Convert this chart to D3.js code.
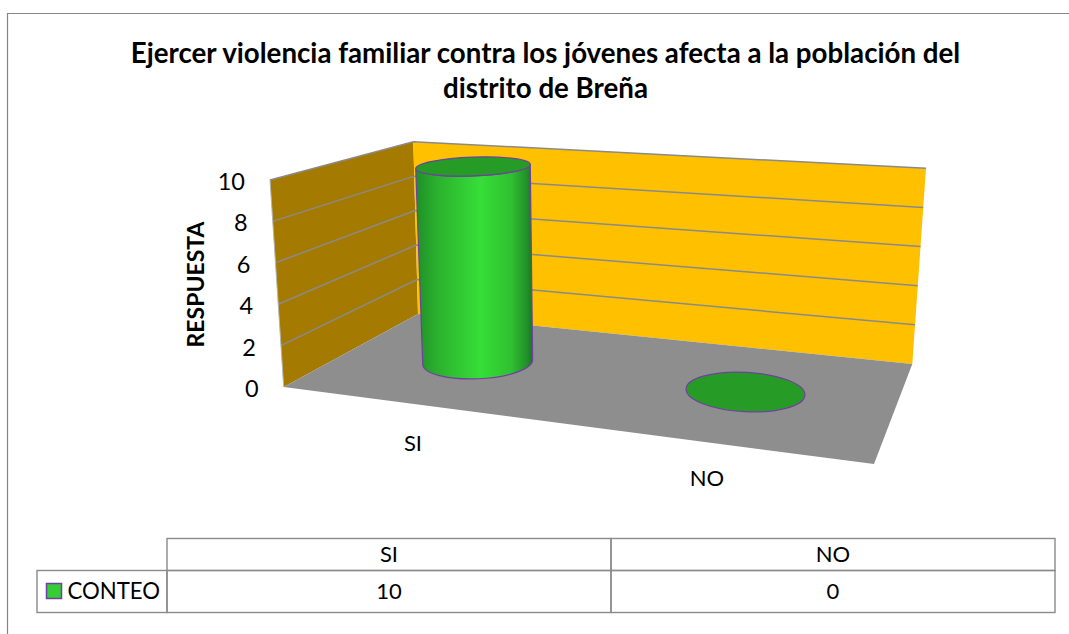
<!DOCTYPE html>
<html>
<head>
<meta charset="utf-8">
<script src="https://cdn.jsdelivr.net/npm/d3@7"></script>
<style>
    html, body { margin: 0; padding: 0; background: #fff; }
    text { font-family: Lato, "Open Sans", sans-serif; fill: #000; }
</style>
</head>
<body>
<div id="chart-area"></div>
<script>
var titleLines = ["Ejercer violencia familiar contra los jóvenes afecta a la población del", "distrito de Breña"];
var yAxisTitle = "RESPUESTA";
var seriesName = "CONTEO";
var categories = ["SI", "NO"];
var values = [10, 0];
var yTicks = [0, 2, 4, 6, 8, 10];
var gridTicks = [2, 4, 6, 8, 10];

var svgWidth = 1069;
var svgHeight = 634;

var svg = d3.select("#chart-area")
            .append("svg")
            .attr("width", svgWidth)
            .attr("height", svgHeight)
            .style("display", "block");

// the three value edges of the box: front left, back corner, back right
var frontY = d3.scaleLinear().domain([0, 10]).range([387, 180]);
var frontX = d3.scaleLinear().domain([0, 10]).range([283.7, 270]);
var cornerY = d3.scaleLinear().domain([0, 10]).range([314, 141.7]);
var cornerX = d3.scaleLinear().domain([0, 10]).range([418, 413.3]);
var rightY = d3.scaleLinear().domain([0, 10]).range([364, 168.3]);
var rightX = d3.scaleLinear().domain([0, 10]).range([912.3, 926]);
var floorFront = { x: 874, y: 464 };

// where each cylinder stands on the floor
var baseX = d3.scalePoint().domain(categories).range([477.7, 745.5]);
var baseY = d3.scalePoint().domain(categories).range([362, 392]);
var baseRx = d3.scalePoint().domain(categories).range([55, 59.5]);
var baseRy = d3.scalePoint().domain(categories).range([16.8, 19.7]);
var baseTilt = d3.scalePoint().domain(categories).range([-2.6, 3]);

// how the cylinder cap changes with its value
var capShift = d3.scaleLinear().domain([0, 10]).range([0, -4.7]);
var capRise = d3.scaleLinear().domain([0, 10]).range([0, 195.5]);
var capWidth = d3.scaleLinear().domain([0, 10]).range([1, 1.042]);
var capFlat = d3.scaleLinear().domain([0, 10]).range([1, 0.56]);
var capTilt = d3.scaleLinear().domain([0, 10]).range([1, 0.8]);

var lineColor = "#8a8a8a";
var outlineColor = "#7040a0";

var defs = svg.append("defs");
var gradient = defs.append("linearGradient")
                   .attr("id", "cylinder-side")
                   .attr("x1", "0").attr("x2", "1")
                   .attr("y1", "0").attr("y2", "0");
[[0, "#1f8f28"], [0.18, "#2bb02e"], [0.55, "#36de37"], [0.82, "#2fc031"], [0.95, "#22902a"], [1, "#1a7522"]]
    .forEach((s) => {
        gradient.append("stop").attr("offset", s[0]).attr("stop-color", s[1]);
    });

// chart frame, only top and left are visible
svg.append("path")
   .attr("d", "M7.5,634V13.5H1069")
   .attr("fill", "none")
   .attr("stroke", "#868686")
   .attr("stroke-width", 1.2);

// title
svg.append("g")
   .selectAll("text")
   .data(titleLines)
   .enter()
   .append("text")
   .attr("x", 545.5)
   .attr("y", (d, i) => 63 + i * 35)
   .attr("text-anchor", "middle")
   .attr("font-size", "27.7px")
   .attr("font-weight", "bold")
   .text((d) => d);

// walls and floor
function poly(points) {
    return d3.line()(points);
}

svg.append("path")
   .attr("d", poly([[frontX(0), frontY(0)], [frontX(10), frontY(10)], [cornerX(10), cornerY(10)], [cornerX(0), cornerY(0)]]) + "Z")
   .attr("fill", "#a47b00");

svg.append("path")
   .attr("d", poly([[cornerX(0), cornerY(0)], [cornerX(10), cornerY(10)], [rightX(10), rightY(10)], [rightX(0), rightY(0)]]) + "Z")
   .attr("fill", "#ffc000");

svg.append("path")
   .attr("d", poly([[frontX(0), frontY(0)], [cornerX(0), cornerY(0)], [rightX(0), rightY(0)], [floorFront.x, floorFront.y]]) + "Z")
   .attr("fill", "#8e8e8e");

// grid lines run along both walls
var grid = svg.append("g").attr("class", "grid");
grid.selectAll("path")
    .data(gridTicks)
    .enter()
    .append("path")
    .attr("d", (d) => poly([[frontX(d), frontY(d)], [cornerX(d), cornerY(d)], [rightX(d), rightY(d)]]))
    .attr("fill", "none")
    .attr("stroke", lineColor)
    .attr("stroke-width", 1.5);

svg.append("path")
   .attr("d", poly([[frontX(0), frontY(0)], [frontX(10), frontY(10)]]))
   .attr("stroke", "#b5b5b5")
   .attr("stroke-width", 1);

// value labels
svg.append("g")
   .selectAll("text")
   .data(yTicks)
   .enter()
   .append("text")
   .attr("x", (d) => frontX(d) - 25)
   .attr("y", (d) => frontY(d) + 10)
   .attr("text-anchor", "end")
   .attr("font-size", "23.5px")
   .text((d) => d);

svg.append("text")
   .attr("transform", "translate(204, 284.5) rotate(-90)")
   .attr("text-anchor", "middle")
   .attr("font-size", "23px")
   .attr("font-weight", "bold")
   .text(yAxisTitle);

// category labels
var labelX = d3.scalePoint().domain(categories).range([413, 707]);
var labelY = d3.scalePoint().domain(categories).range([451, 486]);
svg.append("g")
   .selectAll("text")
   .data(categories)
   .enter()
   .append("text")
   .attr("x", (d) => labelX(d))
   .attr("y", (d) => labelY(d))
   .attr("text-anchor", "middle")
   .attr("font-size", "22px")
   .text((d) => d);

// cylinders
var cylinders = categories.map((name, i) => {
    var v = values[i];
    var rx = baseRx(name);
    return {
        name: name,
        value: v,
        bottom: { x: baseX(name), y: baseY(name), rx: rx, ry: baseRy(name), tilt: baseTilt(name) },
        top: {
            x: baseX(name) + capShift(v),
            y: baseY(name) - capRise(v),
            rx: rx * capWidth(v),
            ry: baseRy(name) * capFlat(v),
            tilt: baseTilt(name) * capTilt(v)
        }
    };
});

function edge(e, side) {
    var a = e.tilt * Math.PI / 180;
    return [e.x + side * e.rx * Math.cos(a), e.y + side * e.rx * Math.sin(a)];
}

function sidePath(d) {
    var tl = edge(d.top, -1), tr = edge(d.top, 1), bl = edge(d.bottom, -1), br = edge(d.bottom, 1);
    return "M" + tl + "L" + bl
         + "A" + d.bottom.rx + "," + d.bottom.ry + " " + d.bottom.tilt + " 0 0 " + br
         + "L" + tr
         + "A" + d.top.rx + "," + d.top.ry + " " + d.top.tilt + " 0 1 " + tl + "Z";
}

var bars = svg.append("g")
              .selectAll("g")
              .data(cylinders)
              .enter()
              .append("g");

bars.filter((d) => d.value > 0)
    .append("path")
    .attr("d", sidePath)
    .attr("fill", "url(#cylinder-side)")
    .attr("stroke", outlineColor)
    .attr("stroke-width", 1.2);

bars.append("ellipse")
    .attr("cx", (d) => d.top.x)
    .attr("cy", (d) => d.top.y)
    .attr("rx", (d) => d.top.rx)
    .attr("ry", (d) => d.top.ry)
    .attr("transform", (d) => "rotate(" + d.top.tilt + " " + d.top.x + " " + d.top.y + ")")
    .attr("fill", "#269c27")
    .attr("stroke", outlineColor)
    .attr("stroke-width", 1.2);

// data table under the plot
var tableX = d3.scaleBand().domain(categories).range([167, 1055]);
var tableLeft = 37;
var headTop = 538.5;
var rowTop = 570.5;
var rowBottom = 612.5;

var table = svg.append("g").attr("class", "data-table");

table.selectAll("rect.head")
     .data(categories)
     .enter()
     .append("rect")
     .attr("class", "head")
     .attr("x", (d) => tableX(d))
     .attr("y", headTop)
     .attr("width", tableX.bandwidth())
     .attr("height", rowTop - headTop);

table.selectAll("rect.cell")
     .data(categories)
     .enter()
     .append("rect")
     .attr("class", "cell")
     .attr("x", (d) => tableX(d))
     .attr("y", rowTop)
     .attr("width", tableX.bandwidth())
     .attr("height", rowBottom - rowTop);

table.append("rect")
     .attr("class", "series")
     .attr("x", tableLeft)
     .attr("y", rowTop)
     .attr("width", tableX.range()[0] - tableLeft)
     .attr("height", rowBottom - rowTop);

table.selectAll("rect")
     .attr("fill", "none")
     .attr("stroke", "#8a8a8a")
     .attr("stroke-width", 1.4);

table.append("rect")
     .attr("x", 46.5)
     .attr("y", 583.5)
     .attr("width", 15)
     .attr("height", 15)
     .attr("fill", "#35cc36")
     .attr("stroke", outlineColor)
     .attr("stroke-width", 1.5);

table.append("text")
     .attr("x", 67.5)
     .attr("y", 598.5)
     .attr("font-size", "22.2px")
     .text(seriesName);

table.selectAll("text.head")
     .data(categories)
     .enter()
     .append("text")
     .attr("class", "head")
     .attr("x", (d) => tableX(d) + tableX.bandwidth() / 2)
     .attr("y", 561.5)
     .attr("text-anchor", "middle")
     .attr("font-size", "22px")
     .text((d) => d);

table.selectAll("text.cell")
     .data(values)
     .enter()
     .append("text")
     .attr("class", "cell")
     .attr("x", (d, i) => tableX(categories[i]) + tableX.bandwidth() / 2)
     .attr("y", 598.5)
     .attr("text-anchor", "middle")
     .attr("font-size", "22px")
     .text((d) => d);
</script>
</body>
</html>
